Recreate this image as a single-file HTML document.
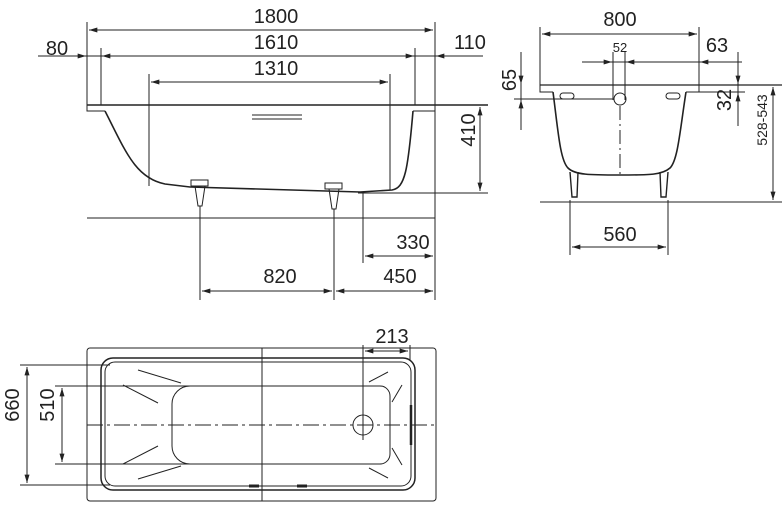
<!DOCTYPE html>
<html><head><meta charset="utf-8"><style>
html,body{margin:0;padding:0;background:#fff;}
svg{display:block;}
text{font-family:"Liberation Sans",sans-serif;fill:#222;}
</style></head><body>
<svg width="784" height="508" viewBox="0 0 784 508" xmlns="http://www.w3.org/2000/svg">
<defs>
<marker id="a" viewBox="0 0 10 6" refX="10" refY="3" markerWidth="11" markerHeight="5" orient="auto-start-reverse" markerUnits="userSpaceOnUse"><path d="M0,0L10,3L0,6z" fill="#222"/></marker>
</defs>
<g stroke="#222" stroke-width="1" fill="none">
<!-- SIDE VIEW -->
<line x1="87" y1="22" x2="87" y2="105"/><line x1="435" y1="22" x2="435" y2="300"/>
<line x1="89" y1="30" x2="433" y2="30" marker-start="url(#a)" marker-end="url(#a)"/>
<line x1="38" y1="56" x2="483" y2="56"/>
<line x1="70" y1="56" x2="86" y2="56" marker-end="url(#a)"/>
<line x1="118" y1="56" x2="102" y2="56" marker-end="url(#a)"/>
<line x1="400" y1="56" x2="414" y2="56" marker-end="url(#a)"/>
<line x1="452" y1="56" x2="436" y2="56" marker-end="url(#a)"/>
<line x1="101" y1="48" x2="101" y2="105"/><line x1="415" y1="48" x2="415" y2="105"/>
<line x1="149" y1="74" x2="149" y2="186"/><line x1="390" y1="74" x2="390" y2="190"/>
<line x1="151" y1="82" x2="388" y2="82" marker-start="url(#a)" marker-end="url(#a)"/>
<line x1="87" y1="105" x2="488" y2="105" stroke-width="1.5"/>
<path d="M87,105V111H105" /><path d="M435,105V111H413"/>
<path d="M105,111 C125,150 135,178 165,184 L190,187 L360,192 L392,190 C405,188 408,170 413,111" stroke-width="1.6"/>
<line x1="252" y1="115" x2="302" y2="115"/><line x1="252" y1="119" x2="302" y2="119"/>
<line x1="480" y1="107" x2="480" y2="191" marker-start="url(#a)" marker-end="url(#a)"/>
<line x1="358" y1="193" x2="488" y2="193"/>
<line x1="87" y1="218" x2="435" y2="218"/>
<path d="M191,180h17v6h-17z M195,186l3,20h4l3,-20 M200,206v12"/>
<path d="M325,183h17v6h-17z M329,189l3,20h4l3,-20 M334,209v9"/>
<line x1="200" y1="210" x2="200" y2="300"/><line x1="334" y1="210" x2="334" y2="300"/>
<line x1="363" y1="193" x2="363" y2="263"/>
<line x1="365" y1="256" x2="433" y2="256" marker-start="url(#a)" marker-end="url(#a)"/>
<line x1="202" y1="291" x2="332" y2="291" marker-start="url(#a)" marker-end="url(#a)"/>
<line x1="336" y1="291" x2="433" y2="291" marker-start="url(#a)" marker-end="url(#a)"/>
<!-- END VIEW -->
<line x1="540" y1="27" x2="540" y2="85"/><line x1="699" y1="27" x2="699" y2="85"/>
<line x1="542" y1="34" x2="697" y2="34" marker-start="url(#a)" marker-end="url(#a)"/>
<line x1="582" y1="62" x2="742" y2="62"/>
<line x1="598" y1="62" x2="612" y2="62" marker-end="url(#a)"/>
<line x1="640" y1="62" x2="626" y2="62" marker-end="url(#a)"/>
<line x1="715" y1="62" x2="700" y2="62" marker-end="url(#a)"/>
<line x1="613" y1="52" x2="613" y2="100"/><line x1="625" y1="52" x2="625" y2="100"/>
<line x1="540" y1="85" x2="782" y2="85" stroke-width="1.3"/>
<path d="M540,85V92H553"/><path d="M699,85V92H686"/>
<line x1="514" y1="99" x2="613" y2="99"/>
<line x1="521" y1="52" x2="521" y2="130"/>
<line x1="521" y1="72" x2="521" y2="84" marker-end="url(#a)"/>
<line x1="521" y1="112" x2="521" y2="100" marker-end="url(#a)"/>
<line x1="738" y1="52" x2="738" y2="126"/><line x1="699" y1="92" x2="745" y2="92"/>
<line x1="738" y1="70" x2="738" y2="84" marker-end="url(#a)"/>
<line x1="738" y1="108" x2="738" y2="93" marker-end="url(#a)"/>
<line x1="773" y1="87" x2="773" y2="200" marker-start="url(#a)" marker-end="url(#a)"/>
<path d="M553,92 C558,130 560,160 568,168 C575,175 590,175 620,175 C650,175 662,175 670,168 C678,160 680,130 686,92" stroke-width="1.6"/>
<circle cx="620" cy="99" r="6"/>
<line x1="620" y1="106" x2="620" y2="175" stroke-dasharray="14,4,2,4"/>
<rect x="560" y="93" width="14" height="6" rx="3"/><rect x="666" y="93" width="14" height="6" rx="3"/>
<path d="M570,172l2,25h5l1,-25 M668,172l-2,25h-5l-1,-25" stroke-width="1.4"/>
<line x1="540" y1="202" x2="782" y2="202"/>
<line x1="570" y1="200" x2="570" y2="255"/><line x1="668" y1="200" x2="668" y2="255"/>
<line x1="572" y1="247" x2="666" y2="247" marker-start="url(#a)" marker-end="url(#a)"/>
<!-- PLAN VIEW -->
<rect x="87" y="348" width="349" height="153" rx="3"/>
<rect x="101" y="358" width="314" height="132" rx="12" stroke-width="1.5"/>
<rect x="105" y="362" width="306" height="124" rx="10"/>
<path d="M190,386 H380 a10,10 0 0 1 10,10 V454 a10,10 0 0 1 -10,10 H190 a18,18 0 0 1 -18,-18 V404 a18,18 0 0 1 18,-18z"/>
<line x1="262" y1="348" x2="262" y2="501"/>
<line x1="87" y1="425" x2="436" y2="425" stroke-dasharray="16,4,3,4"/>
<circle cx="363" cy="425" r="10"/>
<line x1="20" y1="365" x2="110" y2="365"/><line x1="20" y1="485" x2="110" y2="485"/>
<line x1="27" y1="367" x2="27" y2="483" marker-start="url(#a)" marker-end="url(#a)"/>
<line x1="55" y1="386" x2="195" y2="386"/><line x1="55" y1="464" x2="195" y2="464"/>
<line x1="62" y1="388" x2="62" y2="462" marker-start="url(#a)" marker-end="url(#a)"/>
<line x1="363" y1="345" x2="363" y2="440"/><line x1="410" y1="345" x2="410" y2="360"/>
<line x1="365" y1="351" x2="408" y2="351" marker-start="url(#a)" marker-end="url(#a)"/>
<path d="M138,370l43,13 M123,385l35,18 M123,464l35,-18 M138,479l43,-13 M369,382l19,-10 M392,402l10,-17 M392,448l10,17 M369,468l19,10"/>
<path d="M249,486h10 M297,486h10" stroke-width="3"/>
<line x1="411" y1="405" x2="411" y2="445" stroke-width="2.5"/>
</g>
<g font-size="20">
<text x="276" y="23" text-anchor="middle">1800</text>
<text x="276" y="49" text-anchor="middle">1610</text>
<text x="276" y="75" text-anchor="middle">1310</text>
<text x="57" y="55" text-anchor="middle">80</text>
<text x="470" y="49" text-anchor="middle">110</text>
<text transform="translate(475,130) rotate(-90)" text-anchor="middle">410</text>
<text x="413" y="249" text-anchor="middle">330</text>
<text x="280" y="283" text-anchor="middle">820</text>
<text x="400" y="283" text-anchor="middle">450</text>
<text x="620" y="26" text-anchor="middle">800</text>
<text x="620" y="52" text-anchor="middle" font-size="13">52</text>
<text x="717" y="52" text-anchor="middle">63</text>
<text transform="translate(516,80) rotate(-90)" text-anchor="middle">65</text>
<text transform="translate(731,100) rotate(-90)" text-anchor="middle">32</text>
<text transform="translate(767,120) rotate(-90)" text-anchor="middle" font-size="14">528-543</text>
<text x="620" y="241" text-anchor="middle">560</text>
<text x="392" y="343" text-anchor="middle">213</text>
<text transform="translate(19,405) rotate(-90)" text-anchor="middle">660</text>
<text transform="translate(54,405) rotate(-90)" text-anchor="middle">510</text>
</g>
</svg>
</body></html>
